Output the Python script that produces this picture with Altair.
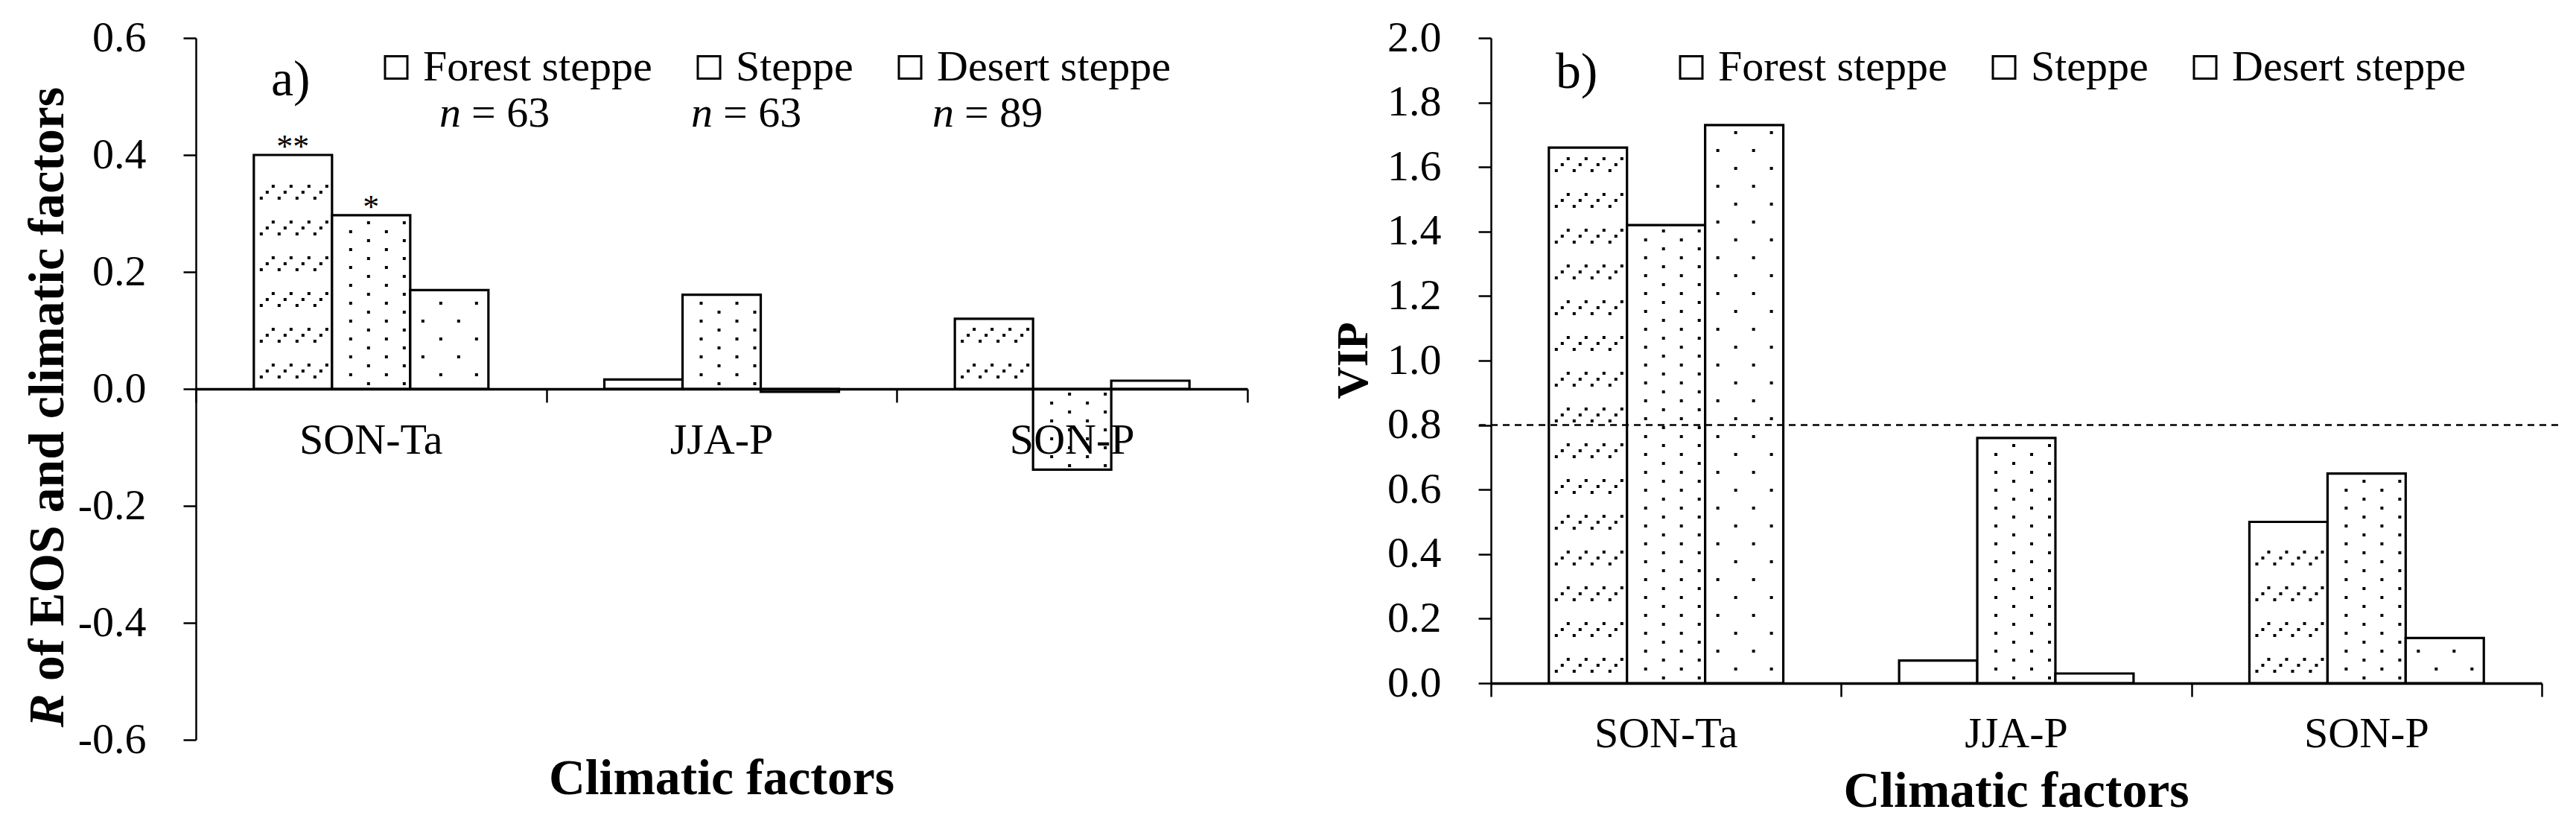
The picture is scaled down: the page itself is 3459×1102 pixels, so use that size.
import altair as alt
import pandas as pd

# ---------------- data ----------------
categories = ["SON-Ta", "JJA-P", "SON-P"]
series = ["Forest steppe", "Steppe", "Desert steppe"]

r_forest = [0.400, 0.016, 0.120]
r_steppe = [0.297, 0.161, -0.138]
r_desert = [0.169, -0.005, 0.014]
sig_forest = ["**", "", ""]
sig_steppe = ["*", "", ""]
sig_desert = ["", "", ""]

vip_forest = [1.66, 0.07, 0.50]
vip_steppe = [1.42, 0.76, 0.65]
vip_desert = [1.73, 0.03, 0.14]
vip_threshold = 0.8

n_sizes = [63, 63, 89]

r_ticks = [-0.6, -0.4, -0.2, 0.0, 0.2, 0.4, 0.6]
vip_ticks = [0.0, 0.2, 0.4, 0.6, 0.8, 1.0, 1.2, 1.4, 1.6, 1.8, 2.0]

# ---------------- style ----------------
FONT = "Liberation Serif"
FS = 58
FS_T = 67.7
BAR_W = 0.2231
OFF = (1 - 3 * BAR_W) / 2
SLASH = ("M-1,0.6L-0.6,0.6L-0.6,1L-1,1Z M-0.2,-0.2L0.2,-0.2L0.2,0.2L-0.2,0.2Z "
         "M0.6,-1L1,-1L1,-0.6L0.6,-0.6Z")


def make_table(vals, sigs):
    rows = []
    for si, s in enumerate(series):
        for ci, c in enumerate(categories):
            rows.append(dict(category=c, ci=ci, series=s, si=si,
                             value=vals[si][ci], sig=sigs[si][ci]))
    return pd.DataFrame(rows)


def txt(text, x, y, **kw):
    props = dict(font=FONT, fontSize=FS, color="black", baseline="alphabetic")
    props.update(kw)
    return alt.Chart(pd.DataFrame({"t": [text]})).mark_text(**props).encode(
        x=alt.value(x), y=alt.value(y), text="t:N")


def panel(df, width, height, ydom, yvals, x_offset, label_y, xtitle_y):
    kx = width / 3
    ky = height / (ydom[1] - ydom[0])
    wpx = BAR_W * kx
    xscale = alt.Scale(domain=[0, 3], nice=False, zero=False)
    yscale = alt.Scale(domain=ydom, nice=False, zero=False)
    xaxis = alt.Axis(values=[0, 1, 2, 3], labels=False, title=None, grid=False,
                     tickSize=18, tickWidth=2.5, tickColor="black",
                     domainColor="black", domainWidth=3.5, offset=x_offset, zindex=1)
    yaxis = alt.Axis(values=yvals, title=None, grid=False, tickSize=17, tickWidth=2.5,
                     tickColor="black", domainColor="black", domainWidth=2.5,
                     labelFont=FONT, labelFontSize=FS, labelColor="black",
                     labelPadding=50, labelOverlap=False, zindex=1,
                     labelExpr="(datum.value < -1e-9 ? '-' : '') + format(abs(datum.value), '.1f')")

    def X(f):
        return alt.X(f, scale=xscale, axis=xaxis)

    def Y(f):
        return alt.Y(f, scale=yscale, axis=yaxis)

    base = alt.Chart(df).transform_calculate(
        x0=f"datum.ci + {OFF} + datum.si * {BAR_W}",
        x1=f"datum.ci + {OFF} + (datum.si + 1) * {BAR_W}",
        xc=f"datum.ci + {OFF} + (datum.si + 0.5) * {BAR_W}",
        zero="0",
    )
    legend = alt.Legend(title=None, orient="none", legendX=240, legendY=10.6,
                        direction="horizontal", symbolType="square", symbolSize=900,
                        symbolStrokeColor="black", symbolStrokeWidth=3,
                        symbolFillColor="white", labelFont=FONT, labelFontSize=FS,
                        labelColor="black", labelOffset=7, columnPadding=47,
                        labelLimit=1000, padding=0)
    bars = base.mark_bar(stroke="black", strokeWidth=3.2).encode(
        x=X("x0:Q"), x2="x1:Q", y=Y("value:Q"), y2="zero:Q",
        color=alt.Color("series:N", scale=alt.Scale(domain=series, range=["white"] * 3),
                        legend=legend),
    )

    def place(chart):
        return chart.transform_calculate(
            px=f"datum.x0 + datum.xs / {kx}",
            py=f"(datum.value < 0 ? -1 : 1) * datum.ys / {ky}",
        )

    def dots(name, start, step, ph0, ph1):
        c = base.transform_filter(f"datum.series == '{name}'").transform_calculate(
            ys=f"sequence({start}, abs(datum.value) * {ky} - 2, {step})"
        ).transform_flatten(["ys"]).transform_calculate(
            row=f"round((datum.ys - {start}) / {step})"
        ).transform_calculate(
            xs=f"sequence(datum.row % 2 == 0 ? {ph0} : {ph1}, {wpx} - 2, 48)"
        ).transform_flatten(["xs"])
        return place(c).mark_point(shape="square", size=16, filled=True, color="black",
                                   opacity=1, strokeWidth=0).encode(x=X("px:Q"), y=Y("py:Q"))

    slash = place(
        base.transform_filter("datum.series == 'Forest steppe'").transform_calculate(
            ys=f"sequence(24, abs(datum.value) * {ky} - 10, 48)"
        ).transform_flatten(["ys"]).transform_calculate(
            xs=f"sequence(18, {wpx} - 8, 24)"
        ).transform_flatten(["xs"])
    ).mark_point(shape=SLASH, size=400, filled=True, color="black", opacity=1,
                 strokeWidth=0).encode(x=X("px:Q"), y=Y("py:Q"))

    ast = base.transform_filter("datum.sig != ''").mark_text(
        font=FONT, fontSize=44, baseline="alphabetic", align="center", dy=3, color="black"
    ).encode(x=X("xc:Q"), y=Y("value:Q"), text="sig:N")

    cat_df = pd.DataFrame({"category": categories, "ci": list(range(len(categories)))})
    catlab = alt.Chart(cat_df).transform_calculate(cx="datum.ci + 0.5").mark_text(
        font=FONT, fontSize=FS, baseline="alphabetic", align="center", color="black"
    ).encode(x=X("cx:Q"), y=alt.value(label_y), text="category:N")

    xtitle = txt("Climatic factors", width / 2, xtitle_y, fontSize=FS_T,
                 fontWeight="bold", align="center")

    layers = [bars, slash, dots("Steppe", 7, 12, 49, 25),
              dots("Desert steppe", 19, 24, 41, 17), ast, catlab, xtitle]
    return layers, Y


# ---------------- panel a ----------------
W1, H1 = 1412, 942
dfa = make_table([r_forest, r_steppe, r_desert], [sig_forest, sig_steppe, sig_desert])
la, Ya = panel(dfa, W1, H1, [-0.6, 0.6], r_ticks, -H1 / 2, 558, 1015)
la += [
    txt("R", -178, 880, fontSize=FS_T, fontWeight="bold", fontStyle="italic",
        angle=270, align="right"),
    txt("of EOS and climatic factors", -178, 863, fontSize=FS_T,
        fontWeight="bold", angle=270, align="left"),
    txt("a)", 101, 77, fontSize=FS_T, align="left"),
]
N_X = [370, 708, 1032]
for i, n in enumerate(n_sizes):
    la.append(txt("n", N_X[i] - 14, 119, fontStyle="italic", align="right"))
    la.append(txt(f"= {n}", N_X[i], 119, align="left"))
left = alt.layer(*la).properties(width=W1, height=H1)

# ---------------- panel b ----------------
W2, H2 = 1411, 866
dfb = make_table([vip_forest, vip_steppe, vip_desert], [["", "", ""]] * 3)
lb, Yb = panel(dfb, W2, H2, [0.0, 2.0], vip_ticks, 0, 952, 1032)
rule = alt.Chart(pd.DataFrame({"v": [vip_threshold]})).mark_rule(
    color="black", strokeWidth=2.5, strokeDash=[9, 7]
).encode(y=Yb("v:Q"), x=alt.value(-16), x2=alt.value(W2 + 22))
lb.insert(4, rule)
lb += [
    txt("VIP", -166, H2 / 2, fontSize=60, fontWeight="bold", angle=270, align="center"),
    txt("b)", 87, 67, fontSize=FS_T, align="left"),
]
right = alt.layer(*lb).properties(width=W2, height=H2)

chart = alt.hconcat(left, right, spacing=327, bounds="flush").resolve_scale(
    x="independent", y="independent", color="independent"
).resolve_legend(color="independent").properties(
    padding={"left": 22, "top": 14, "right": 10, "bottom": 5}
).configure_view(strokeWidth=0)

chart.save("out.html", embed_options={"renderer": "svg", "actions": False})
